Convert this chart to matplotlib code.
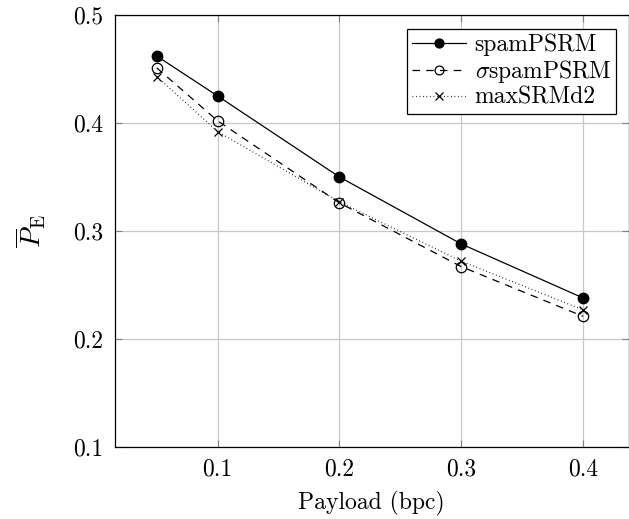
import matplotlib
matplotlib.use("Agg")
import matplotlib.pyplot as plt

payload = [0.05, 0.1, 0.2, 0.3, 0.4]
spam_psrm = [0.462, 0.425, 0.350, 0.288, 0.238]
sigma_spam_psrm = [0.451, 0.402, 0.326, 0.267, 0.221]
max_srmd2 = [0.443, 0.392, 0.327, 0.272, 0.227]

plt.rcParams['font.family'] = 'cmr10'
plt.rcParams['mathtext.fontset'] = 'cm'
plt.rcParams['axes.formatter.use_mathtext'] = True
plt.rcParams['font.size'] = 17

fig = plt.figure(figsize=(6.29, 5.19), dpi=100)
ax = fig.add_axes([114.5 / 629, 1 - 447 / 519, 514 / 629, 432 / 519])

ax.plot(payload, spam_psrm, color='black', linestyle='-', linewidth=0.9,
        marker='o', markersize=7.5, markerfacecolor='black', label='spamPSRM')
ax.plot(payload, sigma_spam_psrm, color='black', linestyle=(0, (6, 5)), linewidth=0.9,
        marker='o', markersize=7.5, markerfacecolor='none', markeredgewidth=0.9,
        label=r'$\sigma$spamPSRM')
ax.plot(payload, max_srmd2, color='black', linestyle=(0, (0.6, 2.2)), linewidth=0.9,
        marker='x', markersize=6, markeredgewidth=0.9, label='maxSRMd2')

ax.set_xlim(0.0153, 0.4373)
ax.set_ylim(0.1, 0.5)
ax.set_xticks([0.1, 0.2, 0.3, 0.4])
ax.set_yticks([0.1, 0.2, 0.3, 0.4, 0.5])
ax.set_xticklabels(['0.1', '0.2', '0.3', '0.4'])
ax.set_yticklabels(['0.1', '0.2', '0.3', '0.4', '0.5'])

ax.grid(True, color='#c8c8c8', linewidth=0.9)
ax.set_axisbelow(True)
ax.tick_params(direction='in', length=5, color='#808080', top=True, right=True, pad=8)
for s in ax.spines.values():
    s.set_linewidth(0.9)

ax.set_xlabel('Payload (bpc)', labelpad=8)
ax.set_ylabel(r'$\overline{P}_{\mathrm{E}}$', fontsize=20, labelpad=18)

leg = ax.legend(loc='upper right', bbox_to_anchor=(0.976, 0.968), fancybox=False,
                edgecolor='black', framealpha=1, handlelength=2.3, handletextpad=0.35,
                borderpad=0.2, labelspacing=0.08, borderaxespad=0, markerscale=0.85)
leg.get_frame().set_linewidth(0.9)

fig.savefig('out.png', dpi=100)
